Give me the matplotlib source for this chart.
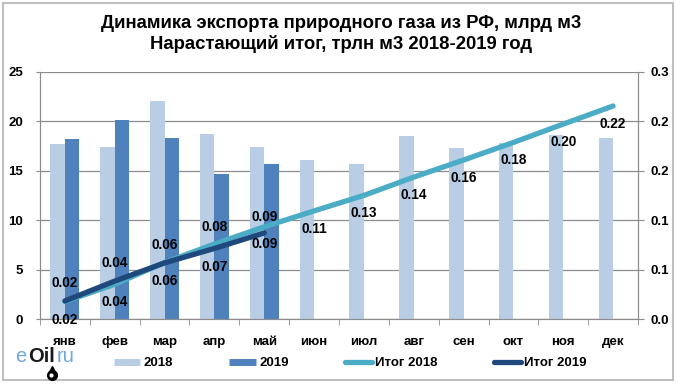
import matplotlib
matplotlib.use("Agg")
import matplotlib.pyplot as plt
import numpy as np
from matplotlib.lines import Line2D
from matplotlib.patches import FancyBboxPatch

plt.rcParams['font.family'] = ['Liberation Sans', 'DejaVu Sans']

months = ['янв', 'фев', 'мар', 'апр', 'май', 'июн', 'июл', 'авг', 'сен', 'окт', 'ноя', 'дек']
exp_2018 = [17.7, 17.4, 22.1, 18.7, 17.4, 16.1, 15.7, 18.5, 17.3, 17.8, 18.6, 18.3]
exp_2019 = [18.25, 20.15, 18.35, 14.65, 15.65]
total_2018 = [0.0177, 0.0351, 0.0572, 0.0759, 0.0933, 0.1094, 0.1251, 0.1436, 0.1609, 0.1787, 0.1973, 0.2156]
total_2019 = [0.0183, 0.0384, 0.0568, 0.0714, 0.0871]
labels_2018 = ['0.02', '0.04', '0.06', '0.08', '0.09', '0.11', '0.13', '0.14', '0.16', '0.18', '0.20', '0.22']
labels_2019 = ['0.02', '0.04', '0.06', '0.07', '0.09']
left_ticks = [0, 5, 10, 15, 20, 25]
right_ticks = [0.0, 0.05, 0.10, 0.15, 0.20, 0.25]
right_tick_labels = ['0.0', '0.1', '0.1', '0.2', '0.2', '0.3']
title = 'Динамика экспорта природного газа из РФ, млрд м3\nНарастающий итог, трлн м3 2018-2019 год'

c2018 = '#B9CDE5'
c2019 = '#4F81BD'
ct2018 = '#4BACC6'
ct2019 = '#1F497D'
grid_c = '#8C8C8C'

W, H = 682, 389
fig = plt.figure(figsize=(W / 100, H / 100), dpi=100)
ax = fig.add_axes([40 / W, (H - 319) / H, (638 - 40) / W, (319 - 72) / H])

x = np.arange(len(months))
bw = 0.29
ax.bar(x - bw / 2, exp_2018, width=bw, color=c2018, zorder=2)
ax.bar(np.arange(len(exp_2019)) + bw / 2, exp_2019, width=bw, color=c2019, zorder=2)
ax.set_xlim(-0.5, len(months) - 0.5)
ax.set_ylim(0, 25)
ax.set_yticks(left_ticks)
ax.set_yticklabels([str(t) for t in left_ticks], fontsize=9.5, fontweight='bold')
ax.set_xticks(x)
ax.set_xticklabels(months, fontsize=9.5, fontweight='bold')
ax.set_xticks(np.arange(-0.5, len(months)), minor=True)
ax.tick_params(axis='x', which='major', length=0, pad=12)
ax.tick_params(axis='x', which='minor', length=4, color=grid_c)
ax.tick_params(axis='y', length=3, color=grid_c, pad=9)
ax.yaxis.grid(True, color=grid_c, linewidth=0.9, zorder=0)
ax.set_axisbelow(True)
for s in ['left', 'bottom', 'right']:
    ax.spines[s].set_color(grid_c)
ax.spines['top'].set_visible(False)

ax2 = ax.twinx()
ax2.set_ylim(0, 0.25)
ax2.set_yticks(right_ticks)
ax2.set_yticklabels(right_tick_labels, fontsize=9.5, fontweight='bold')
ax2.tick_params(axis='y', length=4, color=grid_c, pad=5)
for s in ['left', 'bottom', 'right']:
    ax2.spines[s].set_color(grid_c)
ax2.spines['top'].set_visible(False)

ax2.plot(x, total_2018, color=ct2018, lw=3.8, solid_capstyle='round', zorder=3)
ax2.plot(np.arange(len(total_2019)), total_2019, color=ct2019, lw=3.8, solid_capstyle='round', zorder=4)

pos18 = [-1, -1, -1, 1, 1, -1, -1, -1, -1, -1, -1, -1]
pos19 = [1, 1, 1, -1, -1]
off18 = [13, 13, 13, 12, 7, 13, 13, 13, 13, 13, 13, 13]
off19 = [13, 13, 13, 13, 8]
for i, (v, t) in enumerate(zip(total_2018, labels_2018)):
    ax2.annotate(t, (i, v), xytext=(0, pos18[i] * off18[i]), textcoords='offset points',
                 ha='center', va='center', fontsize=9.8, fontweight='bold', zorder=6)
for i, (v, t) in enumerate(zip(total_2019, labels_2019)):
    ax2.annotate(t, (i, v), xytext=(0, pos19[i] * off19[i]), textcoords='offset points',
                 ha='center', va='center', fontsize=9.8, fontweight='bold', zorder=6)

fig.text(341 / W, 1 - 34 / H, title, ha='center', va='center', fontsize=13.3,
         fontweight='bold', linespacing=1.25)

handles = [
    Line2D([], [], color=c2018, lw=5, solid_capstyle='butt'),
    Line2D([], [], color=c2019, lw=5, solid_capstyle='butt'),
    Line2D([], [], color=ct2018, lw=3.8, solid_capstyle='round'),
    Line2D([], [], color=ct2019, lw=3.8, solid_capstyle='round'),
]
fig.legend(handles, ['2018', '2019', 'Итог 2018', 'Итог 2019'], loc='center',
           bbox_to_anchor=(350 / W, 1 - 363 / H), ncol=4, frameon=False,
           prop={'size': 9.5, 'weight': 'bold'}, handlelength=2.0, handletextpad=0.25,
           columnspacing=4.3)

# logo: pieces placed one after another
renderer = fig.canvas.get_renderer()
xpos = 15.0
drop_x = 63.0
for txt, col, wt in [('e', '#6FA8DC', 'normal'), ('Oil', '#1A1A1A', 'bold'), ('ru', '#6FA8DC', 'normal')]:
    t = fig.text(xpos / W, 1 - 357 / H, txt, color=col, fontsize=14.5, fontweight=wt,
                 ha='left', va='center')
    bb = t.get_window_extent(renderer=renderer)
    xpos += bb.width + 2.0
    if txt == 'Oil':
        drop_x = xpos - 5
fig.lines.append(Line2D([drop_x / W], [1 - 375 / H], transform=fig.transFigure, marker='o',
                        markersize=7, color='black', markeredgecolor='black'))
fig.lines.append(Line2D([drop_x / W], [1 - 369 / H], transform=fig.transFigure, marker='^',
                        markersize=5, color='black'))
fig.lines.append(Line2D([(drop_x - 1.5) / W], [1 - 375 / H], transform=fig.transFigure, marker='o',
                        markersize=2, color='white', markeredgecolor='white'))

fig.patches.append(FancyBboxPatch((3 / W, (H - 380) / H), 670 / W, 377 / H,
                                  boxstyle='square,pad=0', transform=fig.transFigure,
                                  fill=False, edgecolor='#BFBFBF', lw=1.5))

fig.savefig('out.png', dpi=100)
